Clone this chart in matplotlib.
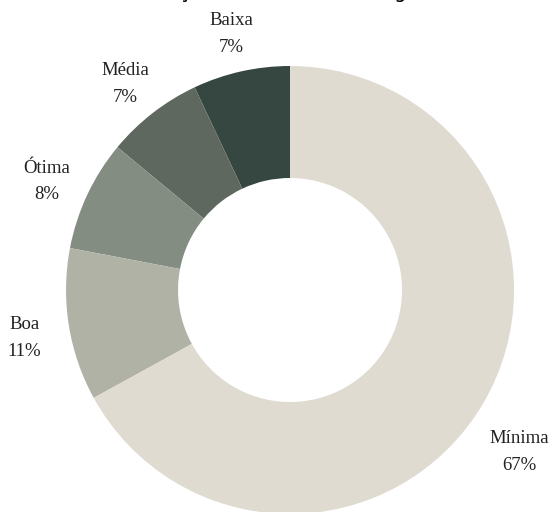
import matplotlib.pyplot as plt

categorias = ["Baixa", "Média", "Ótima", "Boa", "Mínima"]
percentuais = [7, 7, 8, 11, 67]
cores = ["#364640", "#5e685f", "#848d82", "#b1b2a6", "#e0dbd1"]
titulo = "Distribuição da Eficiência Energética"

fig = plt.figure(figsize=(5.52, 5.12), dpi=100)
ax = fig.add_axes([0.1196, -0.0039, 0.8116, 0.875])

rotulos = [f"{c}\n{p}%" for c, p in zip(categorias, percentuais)]
wedges, textos = ax.pie(
    percentuais,
    labels=rotulos,
    colors=cores,
    startangle=90,
    counterclock=True,
    labeldistance=1.2,
    wedgeprops=dict(width=0.5, linewidth=0),
    textprops=dict(family="Liberation Serif", fontsize=13.5, color="#222222",
                   ha="center", va="center", linespacing=1.75),
)
for t in textos:
    t.set_horizontalalignment("center")
    x, y = t.get_position()
    t.set_position((x, y - 0.027))
# o rótulo da fatia maior fica um pouco mais abaixo
x, y = textos[-1].get_position()
textos[-1].set_position((x - 0.008, y - 0.086))

ax.set_xlim(-1, 1)
ax.set_ylim(-1, 1)
ax.set_aspect("equal")

fig.text(0.5, 1.003, titulo, ha="center", va="baseline", fontsize=14,
         family="DejaVu Sans")

fig.savefig("out.png", dpi=100)
